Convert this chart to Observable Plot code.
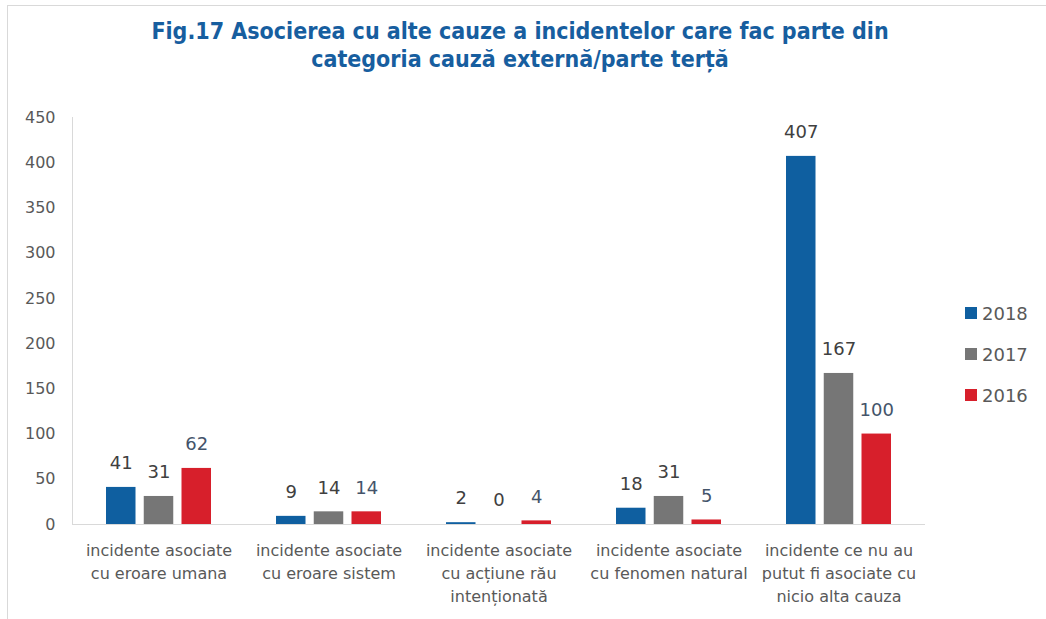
<!DOCTYPE html>
<html>
<head>
<meta charset="utf-8">
<script src="https://cdn.jsdelivr.net/npm/d3@7"></script>
<script src="https://cdn.jsdelivr.net/npm/@observablehq/plot@0.6"></script>
<style>
  body { margin: 0; background: #fff; }
  #wrap { position: relative; width: 1046px; height: 619px; overflow: hidden; font-family: "DejaVu Sans", sans-serif; background: #fff; }
  #border { position: absolute; left: 7px; top: 5px; width: 1100px; height: 700px; border-top: 1px solid #d9d9d9; border-left: 1px solid #d9d9d9; }
  #title { position: absolute; left: 0; top: 17px; width: 1040px; text-align: center; font-family: "DejaVu Sans Condensed", "DejaVu Sans", sans-serif; font-weight: bold; font-size: 23px; line-height: 28px; color: #175e9f; }
  #chart { position: absolute; left: 0; top: 100px; }
  .lg { position: absolute; left: 965px; height: 24px; display: flex; align-items: center; font-size: 18px; color: #595959; }
  .lg span.sw { width: 12px; height: 12px; margin-right: 5px; display: inline-block; }
</style>
</head>
<body>
<div id="wrap">
  <div id="border"></div>
  <div id="title"><div>Fig.17 Asocierea cu alte cauze a incidentelor care fac parte din</div><div>categoria cauză externă/parte terță</div></div>
  <div id="chart"></div>
  <div id="legend"></div>
</div>
<script>
const categories = [
  "incidente asociate\ncu eroare umana",
  "incidente asociate\ncu eroare sistem",
  "incidente asociate\ncu acțiune rău\nintenționată",
  "incidente asociate\ncu fenomen natural",
  "incidente ce nu au\nputut fi asociate cu\nnicio alta cauza"
];
const years = ["2018", "2017", "2016"];
const values2018 = [41, 9, 2, 18, 407];
const values2017 = [31, 14, 0, 31, 167];
const values2016 = [62, 14, 4, 5, 100];
const yTicks = [0, 50, 100, 150, 200, 250, 300, 350, 400, 450];
const colors = ["#0f5fa0", "#767676", "#d71f2b"];
const labelColors = ["#404040", "#404040", "#44546a"];

const seriesValues = [values2018, values2017, values2016];
const barW = 30, barStep = 37.75, groupW = 105.5;

const marks = [
  Plot.frame({anchor: "left", stroke: "#d9d9d9"}),
  Plot.ruleY([0], {stroke: "#d9d9d9"})
];
seriesValues.forEach((vals, k) => {
  const left = k * barStep;
  const right = groupW - left - barW;
  const dx = (k - 1) * barStep;
  marks.push(Plot.barY(categories, {
    x: d => d, y: (d, i) => vals[i], fill: colors[k],
    insetLeft: left, insetRight: right
  }));
  marks.push(Plot.text(categories, {
    x: d => d, y: (d, i) => vals[i], text: (d, i) => String(vals[i]),
    dx: dx, dy: -24, fill: labelColors[k], fontSize: 18
  }));
});
marks.push(Plot.axisY({ticks: yTicks, tickSize: 0, tickPadding: 17, fontSize: 16, color: "#595959"}));
marks.push(Plot.axisX({tickSize: 0, tickPadding: 15, lineHeight: 1.44, fontSize: 16, color: "#595959"}));

const chart = Plot.plot({
  width: 940,
  height: 519,
  marginLeft: 72,
  marginRight: 15,
  marginTop: 17,
  marginBottom: 95,
  style: {fontFamily: "DejaVu Sans, sans-serif", fontSize: "16px", color: "#595959", background: "transparent", overflow: "visible"},
  x: {domain: categories, paddingInner: 0.382, paddingOuter: 0.19, label: null},
  y: {domain: [0, 450], label: null},
  marks
});
document.getElementById("chart").appendChild(chart);

const legend = document.getElementById("legend");
years.forEach((y, k) => {
  const row = document.createElement("div");
  row.className = "lg";
  row.style.top = (301 + k * 41) + "px";
  row.innerHTML = `<span class="sw" style="background:${colors[k]}"></span><span>${y}</span>`;
  legend.appendChild(row);
});
</script>
</body>
</html>
